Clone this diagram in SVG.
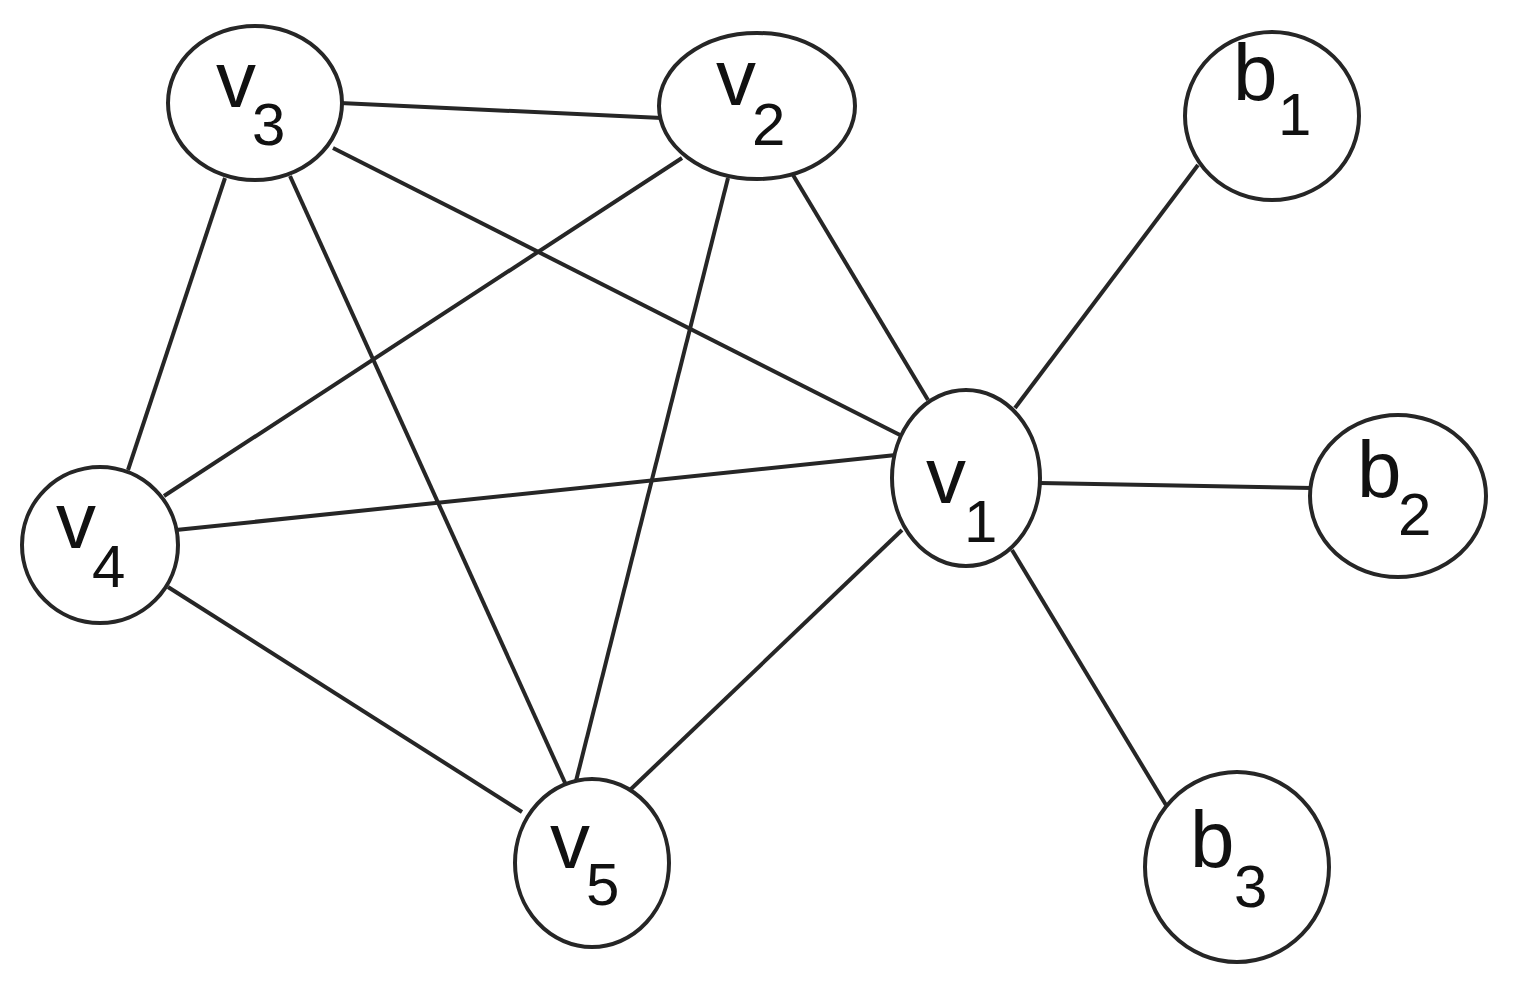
<svg xmlns="http://www.w3.org/2000/svg" width="1522" height="988" viewBox="0 0 1522 988">
<style>
.edge{stroke:#262626;stroke-width:4;fill:none}
.node{fill:#fff;stroke:#262626;stroke-width:4}
.lbl{font-family:"Liberation Sans",Arial,sans-serif;font-size:80px;fill:#111}
.sub{font-size:60px}
</style>
<rect width="1522" height="988" fill="#fff"/>
<g id="edges">
<line class="edge" x1="340" y1="103" x2="662" y2="118"/>
<line class="edge" x1="333" y1="148" x2="900" y2="435"/>
<line class="edge" x1="225" y1="178" x2="128" y2="470"/>
<line class="edge" x1="290" y1="176" x2="566" y2="785"/>
<line class="edge" x1="682" y1="158" x2="164" y2="496"/>
<line class="edge" x1="728" y1="178" x2="575" y2="785"/>
<line class="edge" x1="793" y1="175" x2="928" y2="400"/>
<line class="edge" x1="176" y1="530" x2="896" y2="455"/>
<line class="edge" x1="168" y1="587" x2="522" y2="812"/>
<line class="edge" x1="902" y1="530" x2="630" y2="790"/>
<line class="edge" x1="1015" y1="408" x2="1198" y2="165"/>
<line class="edge" x1="1040" y1="483" x2="1312" y2="488"/>
<line class="edge" x1="1012" y1="550" x2="1166" y2="805"/>
</g>
<g id="v3"><ellipse class="node" cx="255" cy="103" rx="87" ry="77"/><text class="lbl" x="216" y="107">v<tspan class="sub" x="252" y="145">3</tspan></text></g>
<g id="v2"><ellipse class="node" cx="757" cy="106" rx="98" ry="73"/><text class="lbl" x="716" y="105">v<tspan class="sub" x="752" y="145">2</tspan></text></g>
<g id="b1"><ellipse class="node" cx="1272" cy="116" rx="87" ry="84"/><text class="lbl" x="1233" y="100">b<tspan class="sub" x="1278" y="135">1</tspan></text></g>
<g id="v1"><ellipse class="node" cx="966" cy="478" rx="74" ry="88"/><text class="lbl" x="926" y="503">v<tspan class="sub" x="964" y="542">1</tspan></text></g>
<g id="b2"><ellipse class="node" cx="1398" cy="496" rx="88" ry="81"/><text class="lbl" x="1357" y="497">b<tspan class="sub" x="1398" y="535">2</tspan></text></g>
<g id="v4"><ellipse class="node" cx="100" cy="545" rx="78" ry="78"/><text class="lbl" x="56" y="548">v<tspan class="sub" x="92" y="587">4</tspan></text></g>
<g id="v5"><ellipse class="node" cx="592" cy="863" rx="77" ry="84"/><text class="lbl" x="550" y="868">v<tspan class="sub" x="586" y="905">5</tspan></text></g>
<g id="b3"><ellipse class="node" cx="1237" cy="867" rx="92" ry="95"/><text class="lbl" x="1190" y="867">b<tspan class="sub" x="1234" y="907">3</tspan></text></g>
</svg>
